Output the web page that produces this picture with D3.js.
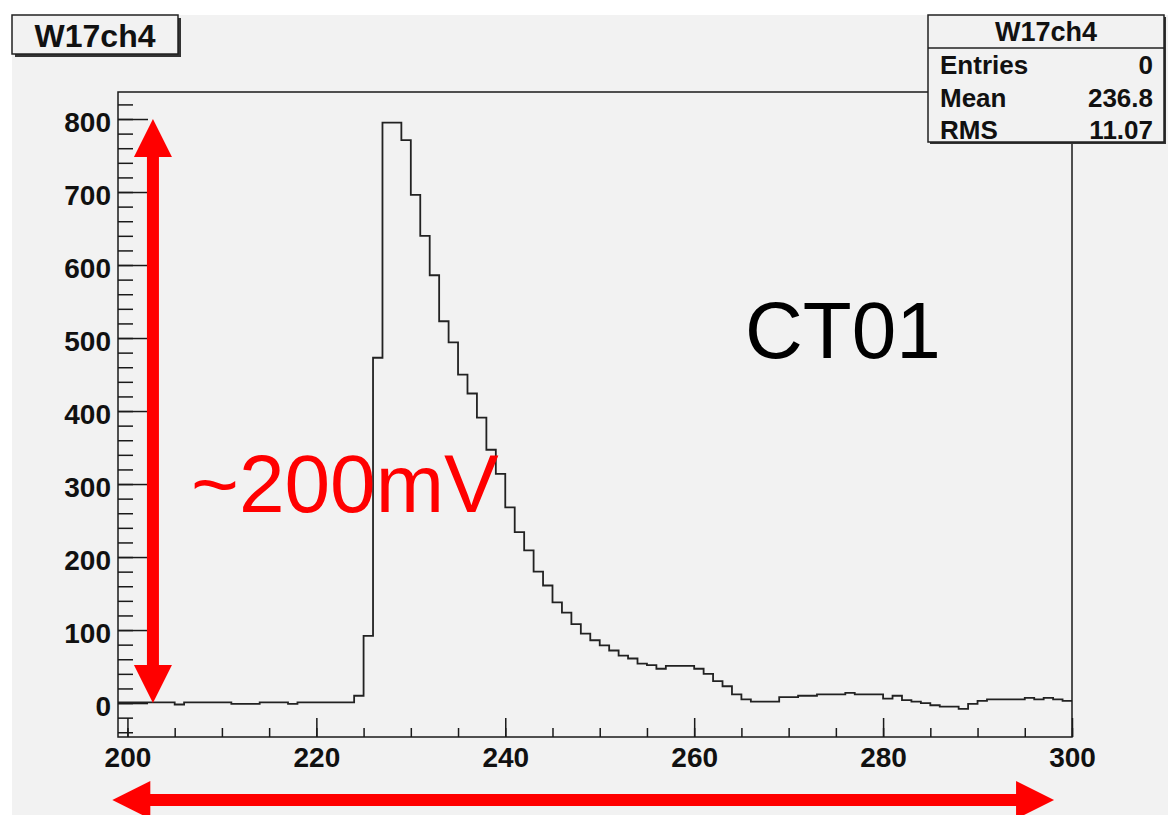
<!DOCTYPE html>
<html>
<head>
<meta charset="utf-8">
<script src="https://cdn.jsdelivr.net/npm/d3@7/dist/d3.min.js"></script>
<style>
  body { margin: 0; background: #ffffff; }
  svg { display: block; font-family: "Liberation Sans", Arial, sans-serif; }
</style>
</head>
<body>
<div class="chart"></div>
<script>
// histogram W17ch4: 1 unit bins starting at 199
var histName = "W17ch4";
var binStart = 199;
var binWidth = 1;
var counts = [
  1, 1, 1, 1, 1, 1, -2, 1, 1, 1,
  1, 1, -1, -1, -1, 1, 1, 1, -1, 1,
  1, 1, 1, 1, 1, 10, 92, 473, 795, 795,
  771, 696, 640, 586, 523, 494, 450, 424, 391, 347,
  314, 268, 234, 209, 180, 161, 138, 124, 108, 95,
  86, 79, 72, 65, 61, 54, 52, 47, 51, 51,
  51, 47, 40, 30, 23, 12, 5, 2, 2, 2,
  8, 8, 10, 10, 12, 12, 12, 14, 12, 12,
  12, 6, 10, 4, 2, 0, -3, -5, -5, -8,
  -1, 3, 5, 5, 5, 5, 7, 5, 7, 5,
  3
];

var xTicks = [200, 220, 240, 260, 280, 300];
var yTicks = [0, 100, 200, 300, 400, 500, 600, 700, 800];

var statLabels = ["Entries", "Mean", "RMS"];
var statValues = ["0", "236.8", "11.07"];

var svgWidth = 1168;
var svgHeight = 815;

var frame = { left: 118, top: 92, right: 1072, bottom: 737 };

var svg = d3.select(".chart")
  .append("svg")
  .attr("width", svgWidth)
  .attr("height", svgHeight);

// canvas background
svg.append("rect")
  .attr("x", 12).attr("y", 15)
  .attr("width", svgWidth - 12).attr("height", svgHeight - 15)
  .attr("fill", "#f2f2f2");

var xScale = d3.scaleLinear()
  .domain([199, 300])
  .range([frame.left, frame.right]);

var yScale = d3.scaleLinear()
  .domain([-46.5, 837])
  .range([frame.bottom, frame.top]);

// minor ticks
var xMinor = d3.range(200, 301, 5);
var yMinor = d3.range(-40, 837, 20);

svg.append("g")
  .attr("transform", `translate(0, ${frame.bottom})`)
  .call(d3.axisBottom(xScale).tickValues(xMinor).tickSize(-9).tickFormat(""))
  .call(g => g.select(".domain").remove())
  .selectAll("line").attr("stroke", "#1a1a1a").attr("stroke-width", 1.5);

svg.append("g")
  .attr("transform", `translate(${frame.left}, 0)`)
  .call(d3.axisLeft(yScale).tickValues(yMinor).tickSize(-15).tickFormat(""))
  .call(g => g.select(".domain").remove())
  .selectAll("line").attr("stroke", "#1a1a1a").attr("stroke-width", 1.5);

// major ticks + labels
var xAxis = svg.append("g")
  .attr("transform", `translate(0, ${frame.bottom})`)
  .call(d3.axisBottom(xScale).tickValues(xTicks).tickSize(-19).tickPadding(10).tickFormat(d3.format("d")));
xAxis.select(".domain").remove();
xAxis.selectAll("line").attr("stroke", "#1a1a1a").attr("stroke-width", 1.5);
xAxis.selectAll("text")
  .style("font-family", "'Liberation Sans', Arial, sans-serif")
  .style("font-size", "28px")
  .style("font-weight", "bold")
  .attr("fill", "#111");

var yAxis = svg.append("g")
  .attr("transform", `translate(${frame.left}, 0)`)
  .call(d3.axisLeft(yScale).tickValues(yTicks).tickSize(-30).tickPadding(7).tickFormat(d3.format("d")));
yAxis.select(".domain").remove();
yAxis.selectAll("line").attr("stroke", "#1a1a1a").attr("stroke-width", 1.5);
yAxis.selectAll("text")
  .attr("dy", "0.46em")
  .style("font-family", "'Liberation Sans', Arial, sans-serif")
  .style("font-size", "28px")
  .style("font-weight", "bold")
  .attr("fill", "#111");

// histogram outline
var pts = counts.map((c, i) => [binStart + i * binWidth, c]);
pts.push([binStart + counts.length * binWidth, counts[counts.length - 1]]);

var line = d3.line()
  .x(d => xScale(d[0]))
  .y(d => yScale(d[1]))
  .curve(d3.curveStepAfter);

svg.append("path")
  .datum(pts)
  .attr("d", line)
  .attr("fill", "none")
  .attr("stroke", "#222")
  .attr("stroke-width", 1.8);

// frame
svg.append("rect")
  .attr("x", frame.left).attr("y", frame.top)
  .attr("width", frame.right - frame.left)
  .attr("height", frame.bottom - frame.top)
  .attr("fill", "none")
  .attr("stroke", "#1a1a1a")
  .attr("stroke-width", 1.5);

// title box
svg.append("rect")
  .attr("x", 15).attr("y", 18).attr("width", 166).attr("height", 39)
  .attr("fill", "#333");
svg.append("rect")
  .attr("x", 12).attr("y", 15).attr("width", 166).attr("height", 39)
  .attr("fill", "#f2f2f2").attr("stroke", "#222").attr("stroke-width", 1.5);
svg.append("text")
  .attr("x", 95).attr("y", 47)
  .attr("text-anchor", "middle")
  .style("font-size", "32px").style("font-weight", "bold")
  .attr("fill", "#111")
  .text(histName);

// stats box
var sb = { x: 928, y: 15, w: 236, h: 127 };
svg.append("rect")
  .attr("x", sb.x + 2).attr("y", sb.y + 2).attr("width", sb.w).attr("height", sb.h)
  .attr("fill", "#333");
svg.append("rect")
  .attr("x", sb.x).attr("y", sb.y).attr("width", sb.w).attr("height", sb.h)
  .attr("fill", "#f2f2f2").attr("stroke", "#222").attr("stroke-width", 1.5);
svg.append("line")
  .attr("x1", sb.x).attr("x2", sb.x + sb.w)
  .attr("y1", 48).attr("y2", 48)
  .attr("stroke", "#222").attr("stroke-width", 1.5);
svg.append("text")
  .attr("x", sb.x + sb.w / 2).attr("y", 41)
  .attr("text-anchor", "middle")
  .style("font-size", "27px").style("font-weight", "bold")
  .attr("fill", "#111")
  .text(histName);

var rowY = [74, 107, 139];
statLabels.forEach(function (lab, i) {
  svg.append("text")
    .attr("x", 940).attr("y", rowY[i])
    .style("font-size", "26px").style("font-weight", "bold")
    .attr("fill", "#111")
    .text(lab);
  svg.append("text")
    .attr("x", 1153).attr("y", rowY[i])
    .attr("text-anchor", "end")
    .style("font-size", "26px").style("font-weight", "bold")
    .attr("fill", "#111")
    .text(statValues[i]);
});

// red annotations
function arrowHead(tipX, tipY, dx, dy) {
  // dx,dy: unit direction the arrow points
  var len = 38, half = 19;
  var bx = tipX - dx * len, by = tipY - dy * len;
  return [[tipX, tipY], [bx - dy * half, by + dx * half], [bx + dy * half, by - dx * half]];
}

var vx = xScale(202.7);
var vTop = yScale(800), vBot = yScale(0);
svg.append("line")
  .attr("x1", vx).attr("x2", vx)
  .attr("y1", vTop + 30).attr("y2", vBot - 30)
  .attr("stroke", "#ff0000").attr("stroke-width", 12);
svg.append("polygon").attr("points", arrowHead(vx, vTop, 0, -1).join(" ")).attr("fill", "#ff0000");
svg.append("polygon").attr("points", arrowHead(vx, vBot, 0, 1).join(" ")).attr("fill", "#ff0000");

var hy = 800;
var hL = xScale(198.4), hR = xScale(298.1);
svg.append("line")
  .attr("x1", hL + 30).attr("x2", hR - 30)
  .attr("y1", hy).attr("y2", hy)
  .attr("stroke", "#ff0000").attr("stroke-width", 12);
svg.append("polygon").attr("points", arrowHead(hL, hy, -1, 0).join(" ")).attr("fill", "#ff0000");
svg.append("polygon").attr("points", arrowHead(hR, hy, 1, 0).join(" ")).attr("fill", "#ff0000");

svg.append("text")
  .attr("x", 191).attr("y", 512)
  .style("font-size", "82px")
  .attr("fill", "#ff0000")
  .text("~200mV");

svg.append("text")
  .attr("x", 745).attr("y", 358)
  .style("font-size", "80px")
  .attr("fill", "#000")
  .text("CT01");
</script>
</body>
</html>
